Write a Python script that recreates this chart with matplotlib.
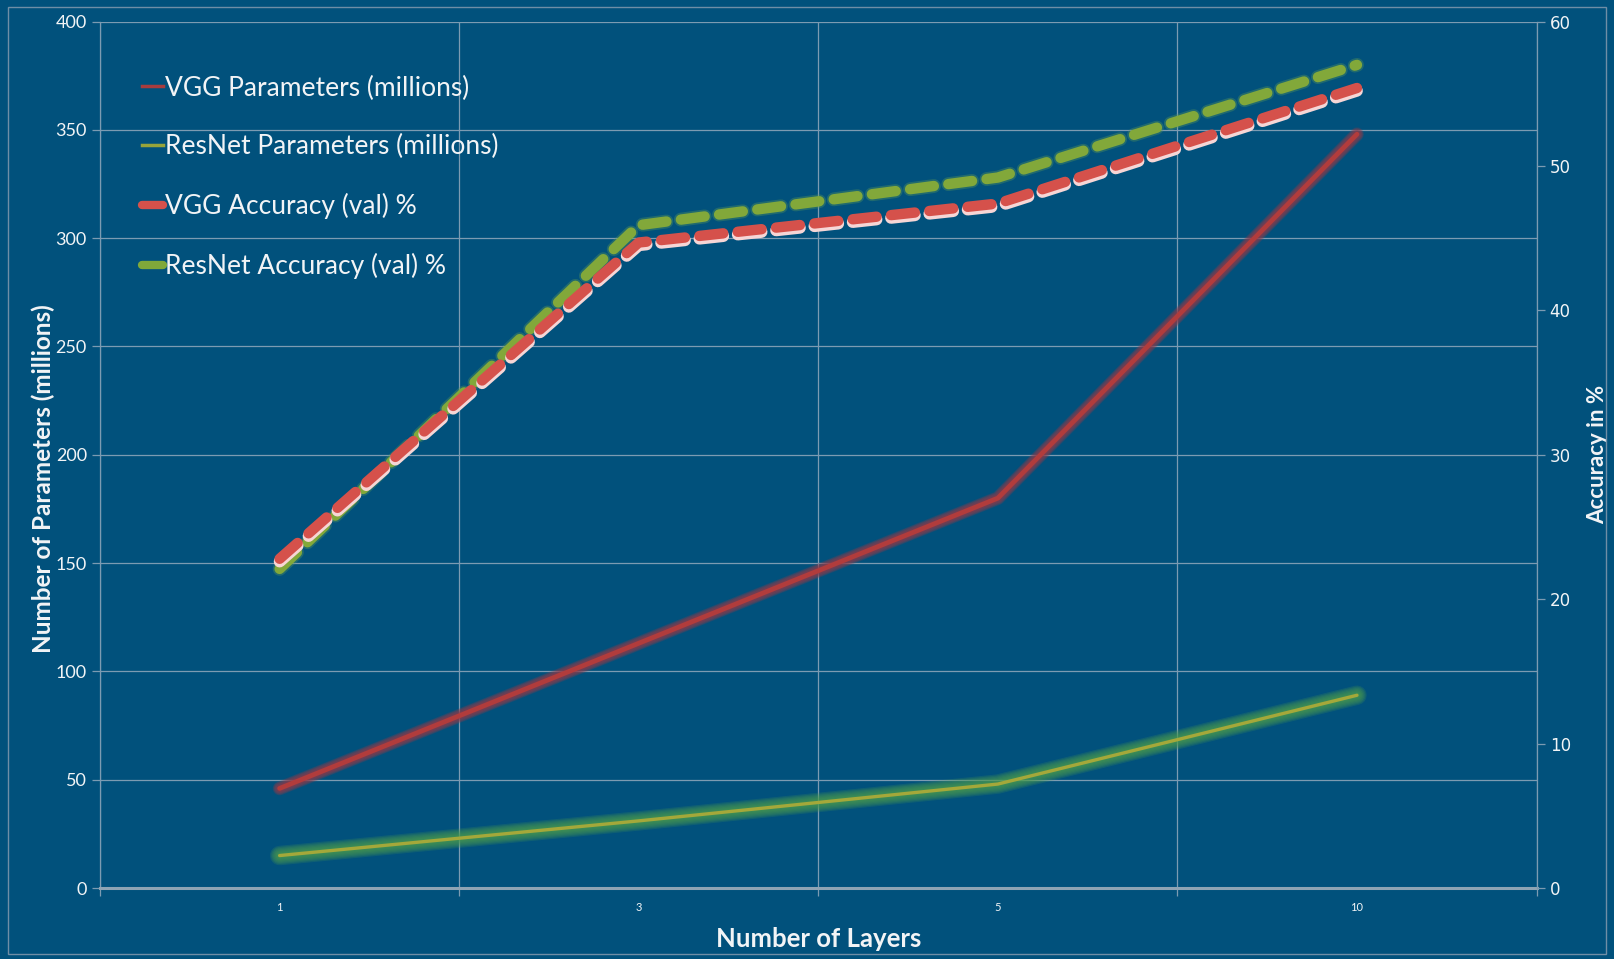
import numpy as np
import matplotlib
matplotlib.use('Agg')
import matplotlib.pyplot as plt
import matplotlib.patheffects as pe
from matplotlib.lines import Line2D

# data
layers = ['1', '3', '5', '10']
vgg_params = [46, 113, 180, 348]
resnet_params = [15, 31, 48, 89]
vgg_acc = [22.8, 44.7, 47.4, 55.4]
resnet_acc = [22.1, 45.9, 49.2, 57.0]

bg = '#01517c'
grid_col = '#7c9bb2'
txt = '#f2f4f6'

plt.rcParams['font.family'] = ['Lato', 'DejaVu Sans']

fig = plt.figure(figsize=(16.14, 9.59), dpi=100, facecolor=bg)
ax = fig.add_axes([0.062, 0.074, 0.890, 0.9035])
ax.set_facecolor(bg)
ax2 = ax.twinx()

x = np.arange(len(layers))


def glow_line(a, xs, ys, core, glow, core_w, glow_w, z, alpha=0.2):
    # soft edge made of stacked wide transparent strokes
    n = 7
    for k in range(n):
        w = glow_w - (glow_w - core_w) * k / n
        a.plot(xs, ys, color=glow, lw=w, alpha=alpha, solid_capstyle='round',
               solid_joinstyle='round', zorder=z)
    a.plot(xs, ys, color=core, lw=core_w, solid_capstyle='round',
           solid_joinstyle='round', zorder=z + 0.1)


glow_line(ax, x, vgg_params, '#b13c3c', '#8f3b4a', 3.4, 10, 3, alpha=0.22)
glow_line(ax, x, resnet_params, '#a4a83a', '#4c9c4e', 2.4, 14, 3, alpha=0.2)

# accuracy lines, dashed with a light underside
ax2.plot(x, resnet_acc, color='#82a83a', lw=7.5, dashes=(2.3, 1.4),
         dash_capstyle='round', zorder=5,
         path_effects=[pe.Stroke(linewidth=10, foreground='#5f9a55', alpha=0.35),
                       pe.Normal()])
ax2.plot(x, vgg_acc, color='#d5514b', lw=7.5, dashes=(2.3, 1.4),
         dash_capstyle='round', zorder=6,
         path_effects=[pe.Stroke(linewidth=8.5, foreground='#f6d6d6', offset=(0, -2)),
                       pe.Normal()])

# axes
ax.set_xlim(-0.5, len(layers) - 0.5)
ax.set_ylim(0, 400)
ax2.set_ylim(0, 60)
ax.set_yticks(np.arange(0, 401, 50))
ax2.set_yticks(np.arange(0, 61, 10))
ax.set_xticks(x)
ax.set_xticklabels(layers)
ax.set_xticks(np.arange(-0.5, len(layers), 1), minor=True)

ax.grid(True, axis='y', color=grid_col, lw=0.9)
ax.grid(True, axis='x', which='minor', color=grid_col, lw=0.9)
ax.set_axisbelow(True)

for s in ['top', 'right']:
    ax.spines[s].set_visible(False)
for s in ['top', 'left', 'bottom']:
    ax2.spines[s].set_visible(False)
ax.spines['bottom'].set_color('#8ea4b4')
ax.spines['bottom'].set_linewidth(2.2)
ax.spines['left'].set_color(grid_col)
ax.spines['left'].set_linewidth(0.9)
ax2.spines['right'].set_color(grid_col)
ax2.spines['right'].set_linewidth(0.9)

ax.tick_params(axis='y', colors=grid_col, labelcolor=txt, labelsize=13, length=6, width=0.9)
ax.tick_params(axis='x', which='major', length=0, labelcolor=txt, labelsize=8, pad=10)
ax.tick_params(axis='x', which='minor', length=6, color=grid_col, width=0.9)
ax2.tick_params(axis='y', colors=grid_col, labelcolor=txt, labelsize=12, length=6, width=0.9,
                labelfontfamily='DejaVu Sans')

ax.set_xlabel('Number of Layers', color=txt, fontsize=18.5, fontweight='bold', labelpad=10)
ax.set_ylabel('Number of Parameters (millions)', color=txt, fontsize=17.5,
              fontweight='bold')
ax.yaxis.set_label_coords(-0.031, 0.473)
ax2.set_ylabel('Accuracy in %', color=txt, fontsize=16, fontweight='bold',
               labelpad=12, family=['Liberation Sans Narrow', 'Lato', 'DejaVu Sans'])

# legend over both axes
handles = [Line2D([], [], color='#a83c3e', lw=2.5),
           Line2D([], [], color='#97a43a', lw=2.5),
           Line2D([], [], color='#d5514b', lw=6, solid_capstyle='round'),
           Line2D([], [], color='#80a83a', lw=6, solid_capstyle='round')]
names = ['VGG Parameters (millions)', 'ResNet Parameters (millions)',
         'VGG Accuracy (val) %', 'ResNet Accuracy (val) %']
leg = ax2.legend(handles, names, loc='upper left', bbox_to_anchor=(0.022, 0.950),
                 frameon=False, fontsize=19, handlelength=0.8, handletextpad=0.05,
                 labelspacing=1.28, labelcolor=txt, borderaxespad=0)

# thin chart border
fig.patches.append(plt.Rectangle((0.005, 0.005), 0.99, 0.988, transform=fig.transFigure,
                                 fill=False, edgecolor='#6f8ea6', lw=1.0))

fig.savefig('out.png', dpi=100, facecolor=bg)
